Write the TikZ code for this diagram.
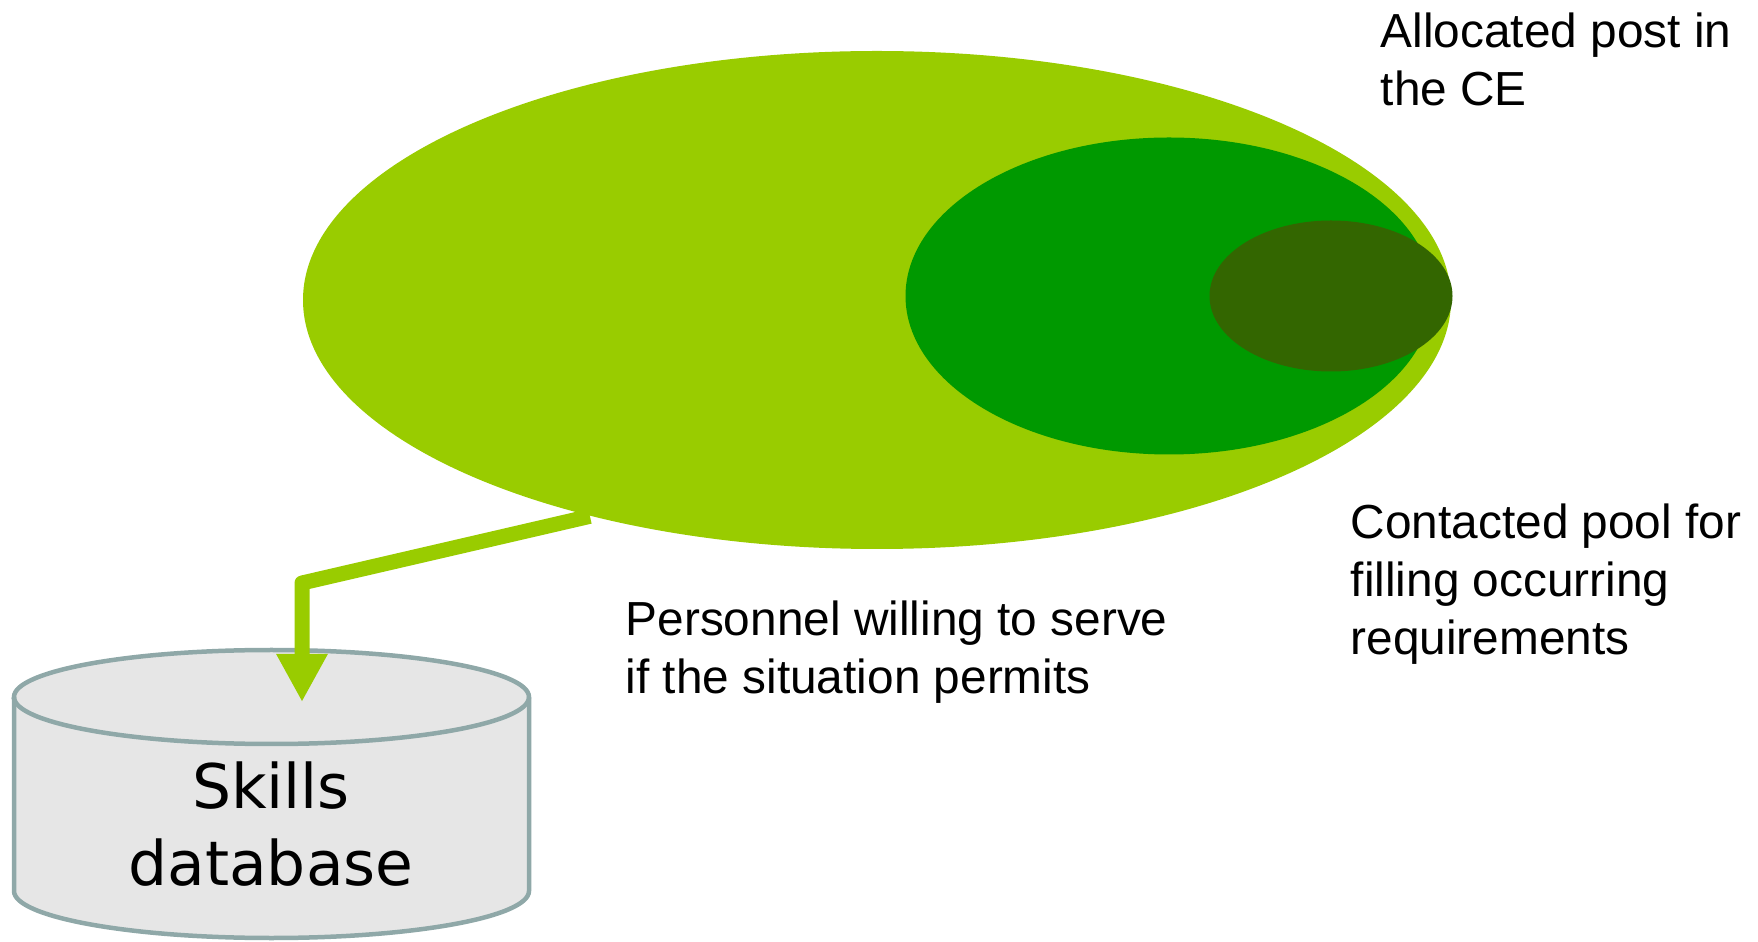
\documentclass[tikz,border=0pt]{standalone}
\usepackage{fontspec}
\setmainfont{Liberation Sans}
\newfontfamily\dbfont{DejaVu Sans}
\usetikzlibrary{shapes.geometric,arrows.meta}
\definecolor{limegreen}{HTML}{99CC00}
\definecolor{midgreen}{HTML}{009900}
\definecolor{olivegreen}{HTML}{336600}
\definecolor{dbfill}{HTML}{E6E6E6}
\definecolor{dbedge}{HTML}{8FA8A8}
\begin{document}
\begin{tikzpicture}[
  pool/.style={ellipse,inner sep=0pt,draw=none},
  lbl/.style={anchor=base west,align=left,inner sep=0pt,font=\fontsize{13.6}{16.6}\selectfont},
  dbline/.style={draw=dbedge,line width=0.45mm},
  link/.style={draw=limegreen,line width=1.5mm,line join=round,-{Triangle[width=4.8mm,length=4.8mm]}}]
\useasboundingbox (0,0) rectangle (17.58,-9.42);
\node[pool,fill=limegreen,minimum width=11.48cm,minimum height=4.98cm] (post) at (8.77,-3.00) {};
\node[pool,fill=midgreen,minimum width=5.27cm,minimum height=3.17cm] (contacted) at (11.69,-2.96) {};
\node[pool,fill=olivegreen,minimum width=2.43cm,minimum height=1.51cm] (core) at (13.31,-2.96) {};
\node[lbl] (postlbl) at (13.80,-1.06) {Allocated post in\\the CE};
\node[lbl] (poollbl) at (13.50,-6.55) {Contacted pool for\\filling occurring\\requirements};
\node[lbl] (willlbl) at (6.25,-6.94) {Personnel willing to serve\\if the situation permits};
\path[dbline,fill=dbfill] (0.14,-6.97) -- (0.14,-8.91)
  arc[start angle=180,end angle=360,x radius=2.575cm,y radius=0.47cm] -- (5.29,-6.97)
  arc[start angle=0,end angle=180,x radius=2.575cm,y radius=0.47cm] -- cycle;
\draw[dbline] (0.14,-6.97) arc[start angle=180,end angle=360,x radius=2.575cm,y radius=0.47cm];
\node[font=\dbfont\fontsize{17.5}{21.9}\selectfont,align=center,inner sep=0pt] (db) at (2.71,-8.24) {Skills\\database};
\coordinate (bend) at (3.02,-5.83);
\coordinate (tip) at (3.02,-7.02);
\draw[link] (post.217) -- (bend) -- (tip);
\end{tikzpicture}
\end{document}
